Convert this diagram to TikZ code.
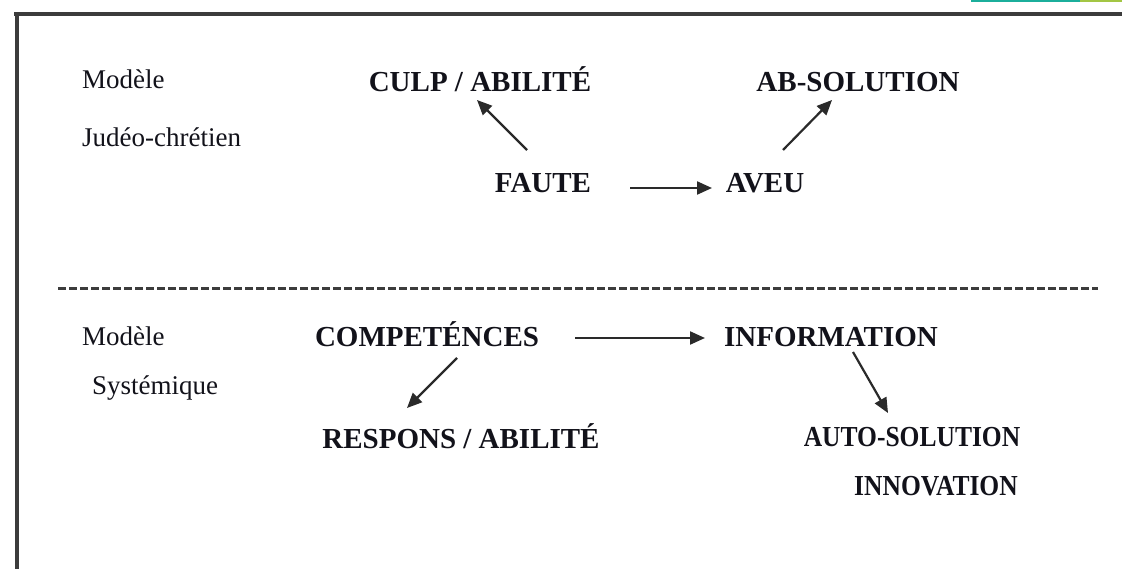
\documentclass[tikz,border=0pt]{standalone}
\usepackage{fontspec}
\setmainfont{Liberation Serif}
\newfontfamily\narrowserif[FakeStretch=0.88]{Liberation Serif}
\usetikzlibrary{arrows.meta}
\definecolor{txt}{HTML}{12121A}
\definecolor{arrowc}{HTML}{2A2A2A}
\definecolor{framec}{HTML}{3C3C3C}
\definecolor{tealc}{HTML}{1BAE9B}
\definecolor{greenc}{HTML}{A3C644}
\begin{document}
\begin{tikzpicture}[x=1pt,y=-1pt,
  lab/.style={anchor=base west, inner sep=0pt, text=txt, font=\fontsize{27}{31}\selectfont},
  bold/.style={anchor=base, inner sep=0pt, text=txt, font=\fontsize{29}{33}\selectfont\bfseries},
  boldnarrow/.style={anchor=base, inner sep=0pt, text=txt, font=\fontsize{29}{33}\selectfont\narrowserif\bfseries},
  arr/.style={draw=arrowc, line width=2.2pt, -{Triangle[length=15pt,width=13pt]}},
  frameline/.style={draw=framec, line width=3.5pt},
  sep/.style={draw=framec, line width=3pt, dash pattern=on 8pt off 3pt}]
\useasboundingbox (0,0) rectangle (1122,569);
% frame
\draw[frameline] (14,14) -- (1122,14);
\draw[frameline] (17,14) -- (17,569);
\fill[tealc] (971,0) rectangle (1080,2.5);
\fill[greenc] (1080,0) rectangle (1122,2.5);
% separator
\draw[sep] (58,289) -- (1098,289);
% labels
\node[lab] (m1) at (82,89) {Modèle};
\node[lab] (jc) at (82,147) {Judéo-chrétien};
\node[lab] (m2) at (82,345) {Modèle};
\node[lab] (sy) at (92,394) {Systémique};
% upper model
\node[bold] (culp) at (480,92) {CULP / ABILITÉ};
\node[bold] (absol) at (858,92) {AB-SOLUTION};
\node[bold] (faute) at (543,193) {FAUTE};
\node[bold] (aveu) at (765,193) {AVEU};
% lower model
\node[bold] (comp) at (427,346) {COMPETÉNCES};
\node[bold] (info) at (831,346) {INFORMATION};
\node[bold] (resp) at (461,448) {RESPONS / ABILITÉ};
\node[boldnarrow] (auto) at (912,446) {AUTO-SOLUTION};
\node[boldnarrow] (innov) at (936,495) {INNOVATION};
% arrow endpoints
\coordinate (fa1) at (630,188); \coordinate (fa2) at (712,188);
\coordinate (fc1) at (527,150); \coordinate (fc2) at (477,100);
\coordinate (ab1) at (783,150); \coordinate (ab2) at (832,100);
\coordinate (ci1) at (575,338); \coordinate (ci2) at (705,338);
\coordinate (cr1) at (457,358); \coordinate (cr2) at (407,408);
\coordinate (ia1) at (853,352); \coordinate (ia2) at (888,413);
\draw[arr] (fa1) -- (fa2);
\draw[arr] (fc1) -- (fc2);
\draw[arr] (ab1) -- (ab2);
\draw[arr] (ci1) -- (ci2);
\draw[arr] (cr1) -- (cr2);
\draw[arr] (ia1) -- (ia2);
\end{tikzpicture}
\end{document}
